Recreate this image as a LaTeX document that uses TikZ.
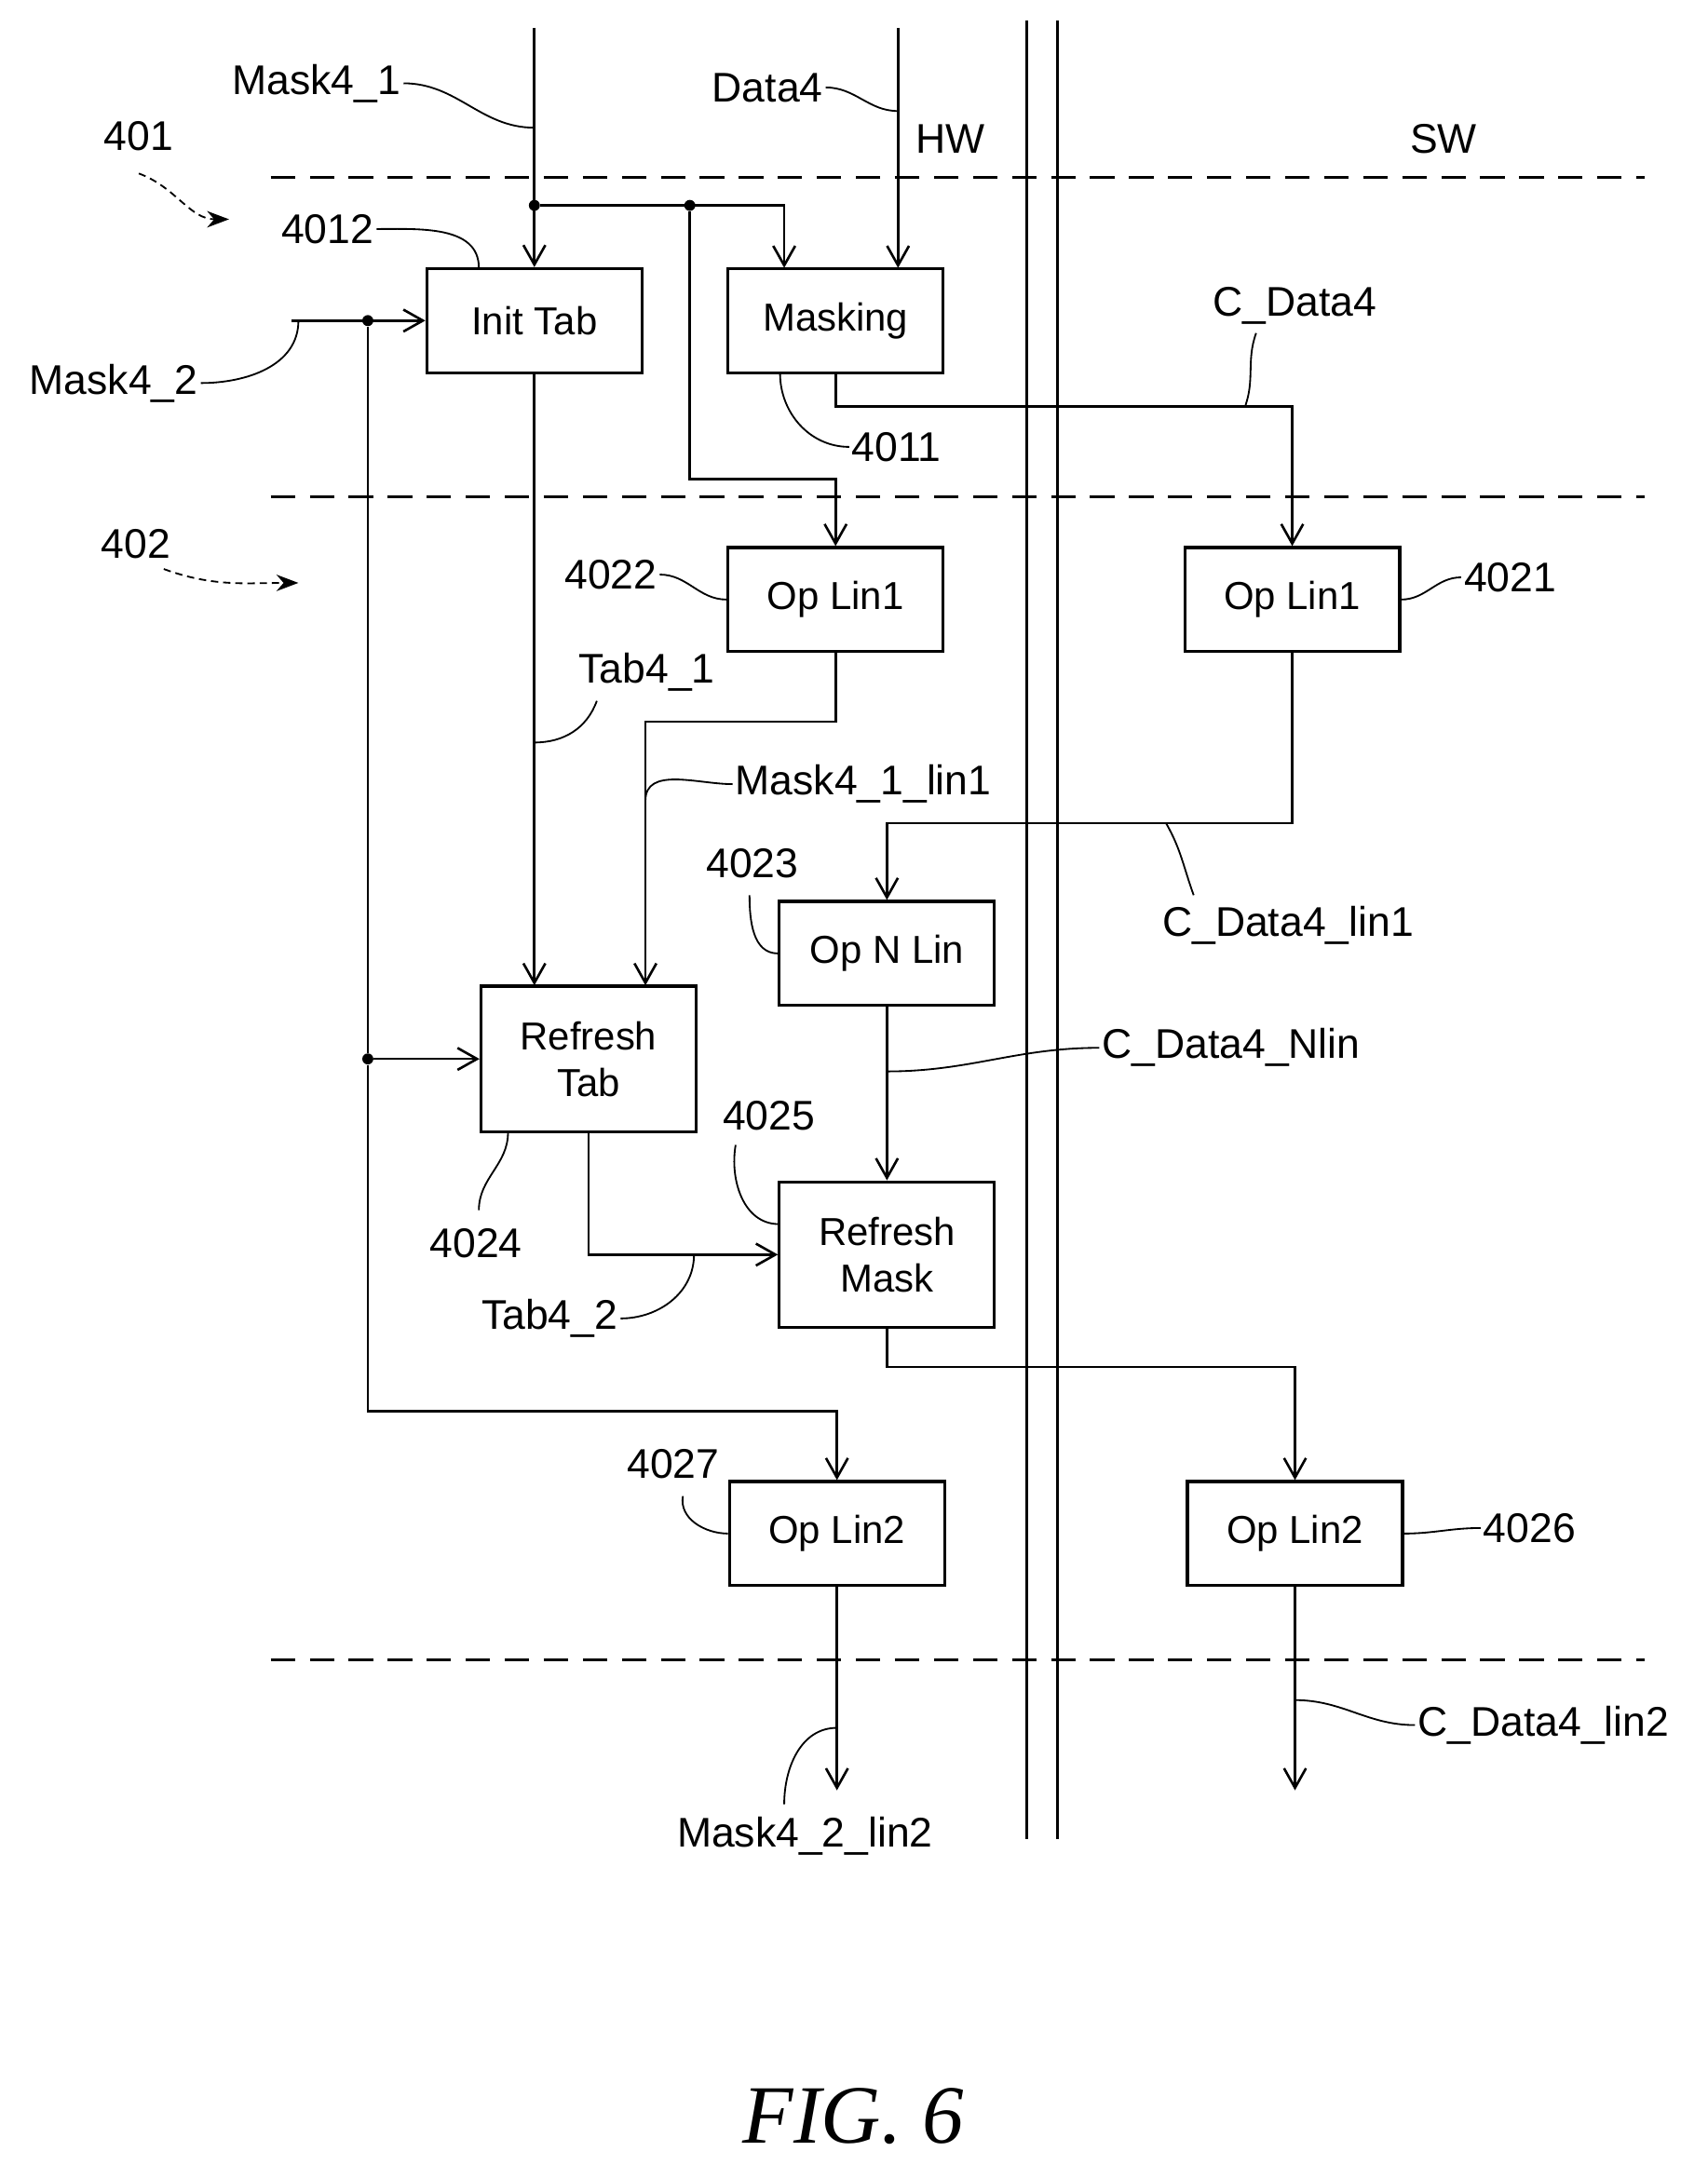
\documentclass[tikz,border=0pt]{standalone}
\usepackage{fontspec}
\setmainfont{Liberation Sans}
\newfontfamily\figfont{Liberation Serif}
\usetikzlibrary{arrows.meta}
\tikzset{
  blk/.style={draw, line width=1.2pt, minimum width=3.1cm, minimum height=1.5cm, font=\fontsize{16}{19}\selectfont, align=center},
  blk2/.style={blk, minimum height=2.1cm},
  flow/.style={line width=1pt, -{Straight Barb[length=8pt, width=9pt]}},
  wire/.style={line width=1pt},
  lead/.style={line width=0.7pt},
  sep/.style={line width=1.2pt, dash pattern=on 10pt off 6pt},
  lbl/.style={font=\fontsize{17}{20}\selectfont, inner sep=1pt},
  dot/.style={circle, fill, inner sep=1.6pt}
}
\begin{document}
\begin{tikzpicture}[x=0.02cm, y=-0.02cm]
  \useasboundingbox (0,0) rectangle (1230,1560);
  % separators
  \draw[sep] (195,128) -- (1185,128);
  \draw[sep] (195,358) -- (1185,358);
  \draw[sep] (195,1196) -- (1185,1196);
  \draw[line width=1.2pt] (740,15) -- (740,1325) (762,15) -- (762,1325);
  \node[lbl] (hw) at (685,100) {HW};
  \node[lbl] (sw) at (1040,100) {SW};
  % blocks
  \node[blk] (init) at (385,231) {Init Tab};
  \node[blk] (mask) at (602,231) {Masking};
  \node[blk] (lin1h) at (602,432) {Op Lin1};
  \node[blk] (lin1s) at (931,432) {Op Lin1};
  \node[blk] (nlin) at (639,687) {Op N Lin};
  \node[blk2] (rtab) at (424,763) {Refresh\\Tab};
  \node[blk2] (rmask) at (639,904) {Refresh\\Mask};
  \node[blk] (lin2h) at (603,1105) {Op Lin2};
  \node[blk] (lin2s) at (933,1105) {Op Lin2};
  % inputs and branch points
  \coordinate (m1in) at (385,20);
  \coordinate (d4in) at (647,20);
  \coordinate (m2in) at (210,231);
  \node[dot] (b1) at (385,148) {};
  \node[dot] (b2) at (497,148) {};
  \node[dot] (b3) at (265,231) {};
  \node[dot] (b4) at (265,763) {};
  \coordinate (outh) at (603,1290);
  \coordinate (outs) at (933,1290);
  % connectors
  \draw[flow] (m1in) -- (init.north);
  \draw[flow] (b1) -| (565,193);
  \draw[flow] (b2) |- (602,345) -- (lin1h.north);
  \draw[flow] (d4in) -- (647,193);
  \draw[flow] (m2in) -- (init.west);
  \draw[wire] (b3) -- (b4);
  \draw[flow] (b4) -- (rtab.west);
  \draw[flow] (b4) |- (603,1017) -- (lin2h.north);
  \draw[flow] (mask.south) |- (931,293) -- (lin1s.north);
  \draw[flow] (init.south) -- (385,710);
  \draw[flow] (lin1h.south) |- (465,520) -- (465,710);
  \draw[flow] (lin1s.south) |- (639,593) -- (nlin.north);
  \draw[flow] (nlin.south) -- (rmask.north);
  \draw[flow] (rtab.south) |- (rmask.west);
  \draw[flow] (rmask.south) |- (933,985) -- (lin2s.north);
  \draw[flow] (lin2h.south) -- (outh);
  \draw[flow] (lin2s.south) -- (outs);
  % labels and leaders
  \node[lbl] (t401) at (100,98) {401};
  \draw[lead, dash pattern=on 3pt off 2pt, -{Stealth[length=9pt]}] (100,125) to[out=-20,in=180] (165,158);
  \node[lbl] (t402) at (98,392) {402};
  \draw[lead, dash pattern=on 3pt off 2pt, -{Stealth[length=9pt]}] (118,410) to[out=-20,in=180] (215,420);
  \node[lbl] (tm1) at (228,60) {Mask4\_1};
  \draw[lead] (tm1.east) to[out=0,in=180] (385,92);
  \node[lbl] (td4) at (553,63) {Data4};
  \draw[lead] (td4.east) to[out=0,in=180] (647,80);
  \node[lbl] (t4012) at (236,165) {4012};
  \draw[lead] (t4012.east) to[out=0,in=90] (345,193);
  \node[lbl] (tm2) at (82,276) {Mask4\_2};
  \draw[lead] (tm2.east) to[out=0,in=-90] (215,231);
  \node[lbl] (tcd) at (933,220) {C\_Data4};
  \draw[lead] (905,240) to[out=-110,in=70] (897,293);
  \node[lbl] (t4011) at (646,322) {4011};
  \draw[lead] (t4011.west) to[out=180,in=-90] (562,269);
  \node[lbl] (t4022) at (440,414) {4022};
  \draw[lead] (t4022.east) to[out=0,in=180] (lin1h.west);
  \node[lbl] (t4021) at (1088,416) {4021};
  \draw[lead] (t4021.west) to[out=180,in=0] (lin1s.east);
  \node[lbl] (tt1) at (466,484) {Tab4\_1};
  \draw[lead] (430,505) to[out=-110,in=0] (385,535);
  \node[lbl] (tml) at (622,565) {Mask4\_1\_lin1};
  \draw[lead] (tml.west) to[out=180,in=90] (465,577);
  \node[lbl] (t4023) at (542,622) {4023};
  \draw[lead] (540,645) to[out=-90,in=180] (nlin.west);
  \node[lbl] (tcl1) at (928,667) {C\_Data4\_lin1};
  \draw[lead] (860,645) to[out=110,in=-60] (840,593);
  \node[lbl] (tcn) at (887,755) {C\_Data4\_Nlin};
  \draw[lead] (tcn.west) to[out=180,in=0] (639,772);
  \node[lbl] (t4025) at (554,804) {4025};
  \draw[lead] (530,825) to[out=-100,in=180] (561,882);
  \node[lbl] (t4024) at (343,896) {4024};
  \draw[lead] (345,872) to[out=90,in=-90] (366,816);
  \node[lbl] (tt2) at (396,950) {Tab4\_2};
  \draw[lead] (tt2.east) to[out=0,in=-90] (500,904);
  \node[lbl] (t4027) at (485,1055) {4027};
  \draw[lead] (492,1078) to[out=-100,in=180] (lin2h.west);
  \node[lbl] (t4026) at (1102,1101) {4026};
  \draw[lead] (t4026.west) to[out=180,in=0] (lin2s.east);
  \node[lbl] (tcl2) at (1112,1243) {C\_Data4\_lin2};
  \draw[lead] (tcl2.west) to[out=180,in=0] (933,1225);
  \node[lbl] (tml2) at (580,1323) {Mask4\_2\_lin2};
  \draw[lead] (565,1300) to[out=90,in=180] (603,1245);
  \node[font=\fontsize{34}{38}\figfont\itshape] (fig) at (615,1525) {FIG. 6};
\end{tikzpicture}
\end{document}
